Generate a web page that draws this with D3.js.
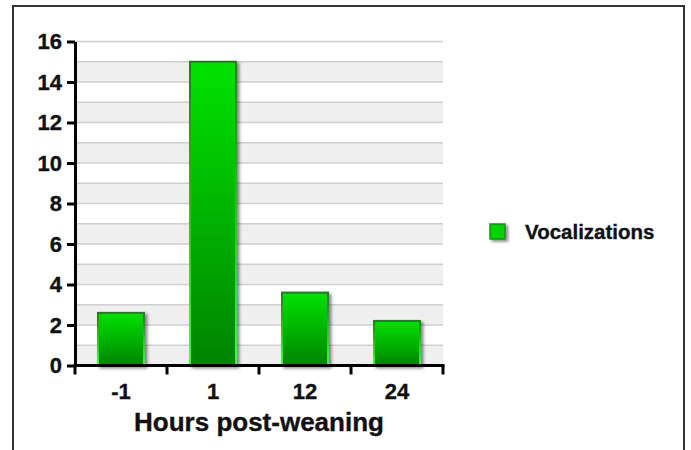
<!DOCTYPE html>
<html>
<head>
<meta charset="utf-8">
<script src="https://cdn.jsdelivr.net/npm/d3@7"></script>
<style>
  body { margin: 0; background: #fff; }
  text { font-family: "Liberation Sans", Arial, sans-serif; font-weight: bold; fill: #111; stroke: #111; stroke-width: 0.35px; }
</style>
</head>
<body>
<svg width="691" height="450"></svg>
<script>
// data
const hours = ['-1', '1', '12', '24']
const vocalizations = [2.6, 15, 3.6, 2.2]
const yTicks = [0, 2, 4, 6, 8, 10, 12, 14, 16]
const seriesName = 'Vocalizations'
const xTitle = 'Hours post-weaning'

const margin = {top: 41.5, left: 75, right: 248, bottom: 84.5}
const width = 691
const height = 450

const svg = d3.select('svg')

const defs = svg.append('defs')
const fillGrad = defs.append('linearGradient')
  .attr('id', 'barFill').attr('x1', 0).attr('y1', 0).attr('x2', 0).attr('y2', 1)
fillGrad.append('stop').attr('offset', '0%').attr('stop-color', '#00e200')
fillGrad.append('stop').attr('offset', '100%').attr('stop-color', '#008400')
const strokeGrad = defs.append('linearGradient')
  .attr('id', 'barStroke').attr('x1', 0).attr('y1', 0).attr('x2', 0).attr('y2', 1)
strokeGrad.append('stop').attr('offset', '0%').attr('stop-color', '#267a26')
strokeGrad.append('stop').attr('offset', '100%').attr('stop-color', '#3cff3c')
const shadow = defs.append('filter').attr('id', 'shadow')
  .attr('x', '-20%').attr('y', '-20%').attr('width', '150%').attr('height', '150%')
shadow.append('feDropShadow')
  .attr('dx', 2.5).attr('dy', 2).attr('stdDeviation', 1.5)
  .attr('flood-color', '#000').attr('flood-opacity', 0.45)

// outer frame
svg.append('rect')
  .attr('x', 13).attr('y', 6).attr('width', 671).attr('height', 460)
  .attr('fill', 'none').attr('stroke', '#333').attr('stroke-width', 2)

const x = d3.scaleBand()
  .domain(hours)
  .range([margin.left, width - margin.right])
  .paddingInner(0.5)
  .paddingOuter(0.25)

const y = d3.scaleLinear()
  .domain([0, 16])
  .range([height - margin.bottom, margin.top])

// alternating bands + grid lines
const units = d3.range(0, 16)
svg.append('g').attr('class', 'bands')
  .selectAll('rect')
  .data(units.filter(d => d % 2 === 0))
  .join('rect')
  .attr('x', margin.left)
  .attr('y', d => y(d + 1))
  .attr('width', width - margin.right - margin.left)
  .attr('height', d => y(d) - y(d + 1))
  .attr('fill', '#efefef')

svg.append('g').attr('class', 'grid')
  .selectAll('line')
  .data(d3.range(1, 17))
  .join('line')
  .attr('x1', margin.left)
  .attr('x2', width - margin.right)
  .attr('y1', d => y(d))
  .attr('y2', d => y(d))
  .attr('stroke', '#cfcfcf')
  .attr('stroke-width', 1.5)

// bars
svg.append('g').attr('class', 'bars')
  .selectAll('rect')
  .data(hours.map((h, i) => ({h, v: vocalizations[i]})))
  .join('rect')
  .attr('x', d => x(d.h))
  .attr('y', d => y(d.v))
  .attr('width', x.bandwidth())
  .attr('height', d => y(0) - y(d.v))
  .attr('fill', 'url(#barFill)')
  .attr('stroke', 'url(#barStroke)')
  .attr('stroke-width', 2)
  .attr('filter', 'url(#shadow)')

// y axis
const yAxis = svg.append('g')
  .attr('transform', `translate(${margin.left},0)`)
  .call(d3.axisLeft(y).tickValues(yTicks).tickSize(8).tickPadding(5).tickSizeOuter(0))
yAxis.select('.domain').attr('stroke', '#000').attr('stroke-width', 3)
yAxis.selectAll('.tick line').attr('stroke', '#000').attr('stroke-width', 3)
yAxis.selectAll('.tick text')
  .style('font-size', '22px').style('font-family', '"Liberation Sans", Arial, sans-serif')
  .style('font-weight', 'bold').attr('fill', '#111')

// x axis
const xAxis = svg.append('g')
  .attr('transform', `translate(0,${y(0)})`)
  .call(d3.axisBottom(x).tickSize(0).tickPadding(18).tickSizeOuter(0))
xAxis.select('.domain').attr('stroke', '#000').attr('stroke-width', 3)
  .attr('d', `M${margin.left - 1.5},0H${width - margin.right + 1.5}`)
xAxis.selectAll('.tick text')
  .style('font-size', '22px').style('font-family', '"Liberation Sans", Arial, sans-serif')
  .style('font-weight', 'bold').attr('fill', '#111')
const bounds = d3.range(hours.length + 1).map(i => margin.left + i * x.step())
xAxis.selectAll('line.bound')
  .data(bounds)
  .join('line')
  .attr('class', 'bound')
  .attr('x1', d => d).attr('x2', d => d)
  .attr('y1', 0).attr('y2', 9)
  .attr('stroke', '#000').attr('stroke-width', 3)

svg.append('text')
  .attr('x', (margin.left + width - margin.right) / 2)
  .attr('y', 431)
  .attr('text-anchor', 'middle')
  .style('font-size', '26px')
  .text(xTitle)

// legend
const legend = svg.append('g').attr('transform', 'translate(490,224)')
legend.append('rect')
  .attr('width', 15).attr('height', 15)
  .attr('fill', '#00d400').attr('stroke', '#1f8a1f').attr('stroke-width', 1.5)
  .attr('filter', 'url(#shadow)')
legend.append('text')
  .attr('x', 35).attr('y', 15)
  .style('font-size', '20.5px')
  .text(seriesName)
</script>
</body>
</html>
